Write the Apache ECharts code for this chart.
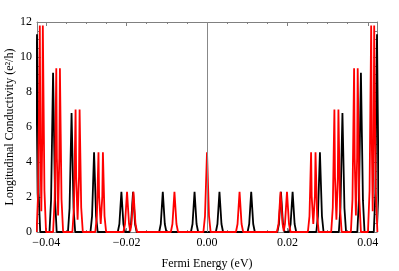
<!DOCTYPE html>
<html>
<head>
<meta charset="utf-8">
<script src="https://cdn.jsdelivr.net/npm/echarts@6/dist/echarts.min.js"></script>
<style>html,body{margin:0;padding:0;background:#fff;}#c{width:399px;height:271px;}</style>
</head>
<body>
<div id="c"></div>
<script>
// Tick labels / positions
const xMajorTicks = [-0.04, -0.02, 0, 0.02, 0.04];
const xMinorTicks = [-0.04, -0.035, -0.03, -0.025, -0.02, -0.015, -0.01, -0.005, 0, 0.005, 0.01, 0.015, 0.02, 0.025, 0.03, 0.035, 0.04];
const xRange = [-0.0423, 0.0423];
const yRange = [0, 12];

// Black curve: [Fermi energy (eV), conductivity (e^2/h)]
const blackCurve = [
  [-0.0431,0],[-0.0427,2.26],[-0.0425,6.78],[-0.0423,11.3],[-0.0421,6.78],[-0.0419,2.26],[-0.0415,0],
  [-0.0392,0],[-0.0388,1.82],[-0.03855,5.46],[-0.0383,9.1],[-0.03805,5.46],[-0.0378,1.82],[-0.0374,0],
  [-0.0346,0],[-0.0342,1.36],[-0.03395,4.08],[-0.0337,6.8],[-0.03345,4.08],[-0.0332,1.36],[-0.0328,0],
  [-0.0290,0],[-0.0286,0.91],[-0.02835,2.73],[-0.0281,4.55],[-0.02785,2.73],[-0.0276,0.91],[-0.0272,0],
  [-0.0222,0],[-0.0218,0.46],[-0.02155,1.38],[-0.0213,2.3],[-0.02105,1.38],[-0.0208,0.46],[-0.0204,0],
  [-0.0193,0],[-0.0189,0.46],[-0.01865,1.38],[-0.0184,2.3],[-0.01815,1.38],[-0.0179,0.46],[-0.0175,0],
  [-0.0119,0],[-0.0115,0.46],[-0.01125,1.38],[-0.0110,2.3],[-0.01075,1.38],[-0.0105,0.46],[-0.0101,0],
  [-0.0040,0],[-0.0036,0.46],[-0.00335,1.38],[-0.0031,2.3],[-0.00285,1.38],[-0.0026,0.46],[-0.0022,0],
  [0.0022,0],[0.0026,0.46],[0.00285,1.38],[0.0031,2.3],[0.00335,1.38],[0.0036,0.46],[0.0040,0],
  [0.0101,0],[0.0105,0.46],[0.01075,1.38],[0.0110,2.3],[0.01125,1.38],[0.0115,0.46],[0.0119,0],
  [0.0175,0],[0.0179,0.46],[0.01815,1.38],[0.0184,2.3],[0.01865,1.38],[0.0189,0.46],[0.0193,0],
  [0.0204,0],[0.0208,0.46],[0.02105,1.38],[0.0213,2.3],[0.02155,1.38],[0.0218,0.46],[0.0222,0],
  [0.0272,0],[0.0276,0.91],[0.02785,2.73],[0.0281,4.55],[0.02835,2.73],[0.0286,0.91],[0.0290,0],
  [0.0328,0],[0.0332,1.36],[0.03345,4.08],[0.0337,6.8],[0.03395,4.08],[0.0342,1.36],[0.0346,0],
  [0.0374,0],[0.0378,1.82],[0.03805,5.46],[0.0383,9.1],[0.03855,5.46],[0.0388,1.82],[0.0392,0],
  [0.0415,0],[0.0419,2.26],[0.0421,6.78],[0.0423,11.3],[0.0425,6.78],[0.0427,2.26],[0.0431,0]
];

// Red curve: [Fermi energy (eV), conductivity (e^2/h)]
const redCurve = [
  [-0.0424,0],[-0.0420,2.36],[-0.0418,7.08],[-0.0416,11.8],[-0.04145,5.31],[-0.04123,1.18],[-0.0410,5.31],[-0.04085,11.8],[-0.04065,7.08],[-0.04045,2.36],[-0.04005,0],
  [-0.0383,0],[-0.0379,1.87],[-0.0377,5.61],[-0.0375,9.35],[-0.03735,4.21],[-0.03705,0.94],[-0.03675,4.21],[-0.0366,9.35],[-0.0364,5.61],[-0.0362,1.87],[-0.0358,0],
  [-0.0335,0],[-0.0331,1.4],[-0.0329,4.2],[-0.0327,7.0],[-0.03255,3.15],[-0.0322,0.7],[-0.03185,3.15],[-0.0317,7.0],[-0.0315,4.2],[-0.0313,1.4],[-0.0309,0],
  [-0.0278,0],[-0.0274,0.91],[-0.0272,2.73],[-0.0270,4.55],[-0.02685,2.05],[-0.02645,0.46],[-0.02605,2.05],[-0.0259,4.55],[-0.0257,2.73],[-0.0255,0.91],[-0.0251,0],
  [-0.0208,0],[-0.0204,0.46],[-0.02015,1.38],[-0.0199,2.3],[-0.01965,1.38],[-0.0194,0.46],[-0.0191,0.05],
  [-0.0188,0.46],[-0.01855,1.38],[-0.0183,2.3],[-0.01805,1.38],[-0.0178,0.46],[-0.0174,0],
  [-0.0090,0],[-0.0086,0.46],[-0.00835,1.38],[-0.0081,2.3],[-0.00785,1.38],[-0.0076,0.46],[-0.0072,0],
  [-0.0009,0],[-0.0005,0.91],[-0.00025,2.73],[0,4.55],[0.00025,2.73],[0.0005,0.91],[0.0009,0],
  [0.0072,0],[0.0076,0.46],[0.00785,1.38],[0.0081,2.3],[0.00835,1.38],[0.0086,0.46],[0.0090,0],
  [0.0174,0],[0.0178,0.46],[0.01805,1.38],[0.0183,2.3],[0.01855,1.38],[0.0188,0.46],[0.0191,0.05],
  [0.0194,0.46],[0.01965,1.38],[0.0199,2.3],[0.02015,1.38],[0.0204,0.46],[0.0208,0],
  [0.0251,0],[0.0255,0.91],[0.0257,2.73],[0.0259,4.55],[0.02605,2.05],[0.02645,0.46],[0.02685,2.05],[0.0270,4.55],[0.0272,2.73],[0.0274,0.91],[0.0278,0],
  [0.0309,0],[0.0313,1.4],[0.0315,4.2],[0.0317,7.0],[0.03185,3.15],[0.0322,0.7],[0.03255,3.15],[0.0327,7.0],[0.0329,4.2],[0.0331,1.4],[0.0335,0],
  [0.0358,0],[0.0362,1.87],[0.0364,5.61],[0.0366,9.35],[0.03675,4.21],[0.03705,0.94],[0.03735,4.21],[0.0375,9.35],[0.0377,5.61],[0.0379,1.87],[0.0383,0],
  [0.04005,0],[0.04045,2.36],[0.04065,7.08],[0.04085,11.8],[0.0410,5.31],[0.04123,1.18],[0.04145,5.31],[0.0416,11.8],[0.0418,7.08],[0.0420,2.36],[0.0424,0]
];

const FONT = 'Liberation Serif';
const FRAME = '#808080';

function fmtX(v) {
  const s = Math.abs(v).toFixed(2);
  return v < -1e-9 ? '\u2212' + s : s;
}

function xAx(pos, ticks, len, labels, line) {
  return {
    type: 'value', position: pos, min: xRange[0], max: xRange[1],
    axisLine: { show: line, onZero: false, lineStyle: { color: FRAME, width: 1 } },
    axisTick: { show: true, inside: true, length: len, customValues: ticks, lineStyle: { color: FRAME, width: 1 } },
    axisLabel: labels ? { show: true, customValues: xMajorTicks, formatter: fmtX, color: '#000', fontFamily: FONT, fontSize: 12, margin: 5 } : { show: false },
    splitLine: { show: false },
    name: labels ? 'Fermi Energy (eV)' : '',
    nameLocation: 'middle', nameGap: 26, nameMoveOverlap: false,
    nameTextStyle: { color: '#000', fontFamily: FONT, fontSize: 12 }
  };
}

function yAx(pos, labels) {
  return {
    type: 'value', position: pos, min: yRange[0], max: yRange[1], interval: 2,
    axisLine: { show: true, onZero: false, lineStyle: { color: FRAME, width: 1 } },
    axisTick: { show: true, inside: true, length: 4, lineStyle: { color: FRAME, width: 1 } },
    minorTick: { show: true, splitNumber: 4, length: 2, lineStyle: { color: FRAME, width: 1 } },
    axisLabel: labels ? { show: true, color: '#000', fontFamily: FONT, fontSize: 12, margin: 5 } : { show: false },
    splitLine: { show: false },
    name: labels ? 'Longitudinal Conductivity (e\u00B2/h)' : '',
    nameLocation: 'middle', nameGap: 21, nameRotate: 90, nameMoveOverlap: false,
    nameTextStyle: { color: '#000', fontFamily: FONT, fontSize: 12 }
  };
}

const chart = echarts.init(document.getElementById('c'), null, { renderer: 'canvas' });
chart.setOption({
  animation: false,
  backgroundColor: '#fff',
  grid: { left: 37, right: 22, top: 22, bottom: 39, containLabel: false, outerBoundsMode: 'none' },
  xAxis: [
    xAx('bottom', xMajorTicks, 4, true, true),
    xAx('bottom', xMinorTicks, 2, false, false),
    xAx('top', xMajorTicks, 4, false, true),
    xAx('top', xMinorTicks, 2, false, false)
  ],
  yAxis: [ yAx('left', true), yAx('right', false) ],
  series: [
    {
      type: 'line', name: 'black', xAxisIndex: 0, yAxisIndex: 0,
      data: blackCurve, showSymbol: false, symbol: 'none',
      lineStyle: { color: '#000', width: 1.8 }, clip: true,
      markLine: {
        silent: true, symbol: 'none', label: { show: false },
        lineStyle: { color: '#888', width: 1, type: 'solid' },
        data: [{ xAxis: 0 }]
      }
    },
    {
      type: 'line', name: 'red', xAxisIndex: 0, yAxisIndex: 0,
      data: redCurve, showSymbol: false, symbol: 'none',
      lineStyle: { color: '#ff0000', width: 1.8 }, clip: true
    }
  ]
});
</script>
</body>
</html>
